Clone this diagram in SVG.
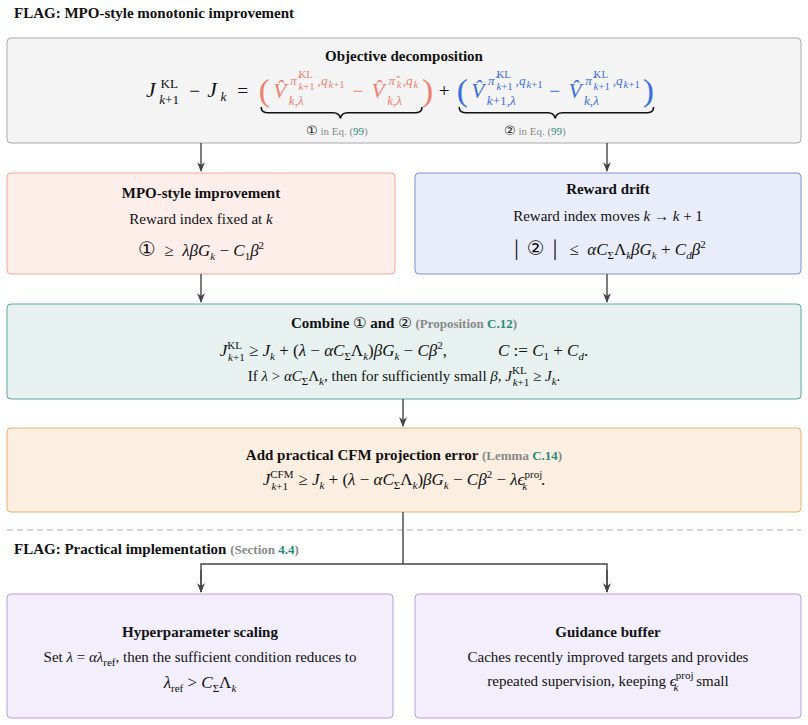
<svg xmlns="http://www.w3.org/2000/svg" width="808" height="725" viewBox="0 0 808 725">
<defs>
<marker id="ar" viewBox="0 0 10 10" refX="9" refY="5" markerWidth="7" markerHeight="7" orient="auto"><path d="M0,1 L10,5 L0,9 L3,5 z" fill="#444"/></marker>
<style>
text{font-family:"Liberation Serif",serif;fill:#111;white-space:pre}
.h{font-weight:bold;font-size:15px}
.t{font-size:15px}
.m{font-size:17px}
.i{font-style:italic}
.s{font-size:11px}
.ss{font-size:9px}
.g{fill:#888;font-weight:bold}
.tl{fill:#2a8a80}
.c{font-family:"DejaVu Sans",sans-serif}
.ln{stroke:#444;stroke-width:1.4;fill:none}
</style>
</defs>
<rect width="808" height="725" fill="#fff"/>
<text x="14" y="18" class="h">FLAG: MPO-style monotonic improvement</text>

<g id="n1">
<rect x="7" y="38" width="794" height="105" rx="4" fill="#f4f4f4" stroke="#aaa"/>
<text x="404" y="61" class="h" text-anchor="middle">Objective decomposition</text>
<g transform="translate(146,97) scale(1.2,1.12) translate(-146,-97)">
<text x="146" y="97" class="i" style="font-size:18px">J</text>
<text x="158" y="89" class="s">KL</text>
<text x="157" y="103" class="s"><tspan class="i">k</tspan>+1</text>
<text x="182" y="97" style="font-size:16px">−</text>
<text x="197" y="97" class="i" style="font-size:18px">J</text>
<text x="208" y="101" class="s i">k</text>
<text x="222" y="97" style="font-size:16px">=</text>
<text x="240" y="101" style="font-size:28px;fill:#f08070">(</text>
<text x="252" y="98" class="i" style="fill:#f08070;font-size:18px">V̂</text>
<text x="266" y="86" class="s i" style="fill:#f08070">π̂</text>
<text x="273" y="80" class="ss" style="fill:#f08070">KL</text>
<text x="273" y="91" class="ss" style="fill:#f08070"><tspan class="i">k</tspan>+1</text>
<text x="289" y="86" class="s i" style="fill:#f08070">,q</text>
<text x="298" y="89" class="ss" style="fill:#f08070"><tspan class="i">k</tspan>+1</text>
<text x="265" y="104" class="s i" style="fill:#f08070">k,λ</text>
<text x="318" y="97" style="fill:#f08070;font-size:16px">−</text>
<text x="334" y="98" class="i" style="fill:#f08070;font-size:18px">V̂</text>
<text x="348" y="86" class="s i" style="fill:#f08070">π̂</text>
<text x="355" y="89" class="ss i" style="fill:#f08070">k</text>
<text x="360" y="86" class="s i" style="fill:#f08070">,q</text>
<text x="369" y="89" class="ss i" style="fill:#f08070">k</text>
<text x="347" y="104" class="s i" style="fill:#f08070">k,λ</text>
<text x="376" y="101" style="font-size:28px;fill:#f08070">)</text>
<text x="390" y="97" style="font-size:16px">+</text>
<text x="405" y="101" style="font-size:28px;fill:#3b6fe0">(</text>
<text x="417" y="98" class="i" style="fill:#3b6fe0;font-size:18px">V̂</text>
<text x="431" y="86" class="s i" style="fill:#3b6fe0">π̂</text>
<text x="438" y="80" class="ss" style="fill:#3b6fe0">KL</text>
<text x="438" y="91" class="ss" style="fill:#3b6fe0"><tspan class="i">k</tspan>+1</text>
<text x="454" y="86" class="s i" style="fill:#3b6fe0">,q</text>
<text x="463" y="89" class="ss" style="fill:#3b6fe0"><tspan class="i">k</tspan>+1</text>
<text x="430" y="104" class="s" style="fill:#3b6fe0"><tspan class="i">k</tspan>+1,<tspan class="i">λ</tspan></text>
<text x="482" y="97" style="fill:#3b6fe0;font-size:16px">−</text>
<text x="498" y="98" class="i" style="fill:#3b6fe0;font-size:18px">V̂</text>
<text x="512" y="86" class="s i" style="fill:#3b6fe0">π̂</text>
<text x="519" y="80" class="ss" style="fill:#3b6fe0">KL</text>
<text x="519" y="91" class="ss" style="fill:#3b6fe0"><tspan class="i">k</tspan>+1</text>
<text x="535" y="86" class="s i" style="fill:#3b6fe0">,q</text>
<text x="544" y="89" class="ss" style="fill:#3b6fe0"><tspan class="i">k</tspan>+1</text>
<text x="511" y="104" class="s i" style="fill:#3b6fe0">k,λ</text>
<text x="560" y="101" style="font-size:28px;fill:#3b6fe0">)</text>
<path class="ln" style="stroke:#111;stroke-width:1.3" d="M242,106 q0,5 5,5 h55 q5,0 6,5 q1,-5 6,-5 h57 q5,0 5,-5"/>
<path class="ln" style="stroke:#111;stroke-width:1.3" d="M407,106 q0,5 5,5 h69 q5,0 6,5 q1,-5 6,-5 h71 q5,0 5,-5"/>
</g>
<text x="306" y="135" style="font-size:11px;fill:#888"><tspan class="c" style="fill:#111;font-size:13px">①</tspan> in Eq. (<tspan class="tl">99</tspan>)</text>
<text x="504" y="135" style="font-size:11px;fill:#888"><tspan class="c" style="fill:#111;font-size:13px">②</tspan> in Eq. (<tspan class="tl">99</tspan>)</text>
</g>

<g id="n2">
<rect x="7" y="173" width="388" height="101" rx="4" fill="#fdeeea" stroke="#f0a898"/>
<text x="201" y="198" class="h" text-anchor="middle">MPO-style improvement</text>
<text x="201" y="224" class="t" text-anchor="middle">Reward index fixed at <tspan class="i">k</tspan></text>
<text x="201" y="256" class="m" text-anchor="middle"><tspan class="c" style="font-size:20px">①</tspan>  ≥  <tspan class="i">λβG</tspan><tspan class="s i" dy="4">k</tspan><tspan dy="-4"> − </tspan><tspan class="i">C</tspan><tspan class="s" dy="4">1</tspan><tspan class="i" dy="-4">β</tspan><tspan class="s" dy="-7">2</tspan></text>
</g>

<g id="n3">
<rect x="415" y="173" width="386" height="101" rx="4" fill="#e9edf9" stroke="#7b93d9"/>
<text x="608" y="194" class="h" text-anchor="middle">Reward drift</text>
<text x="608" y="221" class="t" text-anchor="middle">Reward index moves <tspan class="i">k</tspan> → <tspan class="i">k</tspan> + 1</text>
<text x="608" y="255" class="m" text-anchor="middle">│ <tspan class="c" style="font-size:20px">②</tspan> │  ≤  <tspan class="i">αC</tspan><tspan class="s" dy="4">Σ</tspan><tspan dy="-4">Λ</tspan><tspan class="s i" dy="4">k</tspan><tspan class="i" dy="-4">βG</tspan><tspan class="s i" dy="4">k</tspan><tspan dy="-4"> + </tspan><tspan class="i">C</tspan><tspan class="s i" dy="4">d</tspan><tspan class="i" dy="-4">β</tspan><tspan class="s" dy="-7">2</tspan></text>
</g>

<g id="n4">
<rect x="7" y="304" width="794" height="95" rx="4" fill="#e6f1f0" stroke="#5aa8a0"/>
<text x="404" y="328" class="h" text-anchor="middle">Combine <tspan class="c" style="font-weight:normal">①</tspan> and <tspan class="c" style="font-weight:normal">②</tspan> <tspan class="g" style="font-size:13px">(Proposition <tspan class="tl">C.12</tspan>)</tspan></text>
<text x="404" y="356" class="m" text-anchor="middle"><tspan class="i">J</tspan><tspan class="s" dy="-7">KL</tspan><tspan class="s i" dx="-14" dy="12">k</tspan><tspan class="s">+1</tspan><tspan dy="-5"> ≥ </tspan><tspan class="i">J</tspan><tspan class="s i" dy="4">k</tspan><tspan dy="-4"> + (</tspan><tspan class="i">λ</tspan> − <tspan class="i">αC</tspan><tspan class="s" dy="4">Σ</tspan><tspan dy="-4">Λ</tspan><tspan class="s i" dy="4">k</tspan><tspan dy="-4">)</tspan><tspan class="i">βG</tspan><tspan class="s i" dy="4">k</tspan><tspan dy="-4"> − </tspan><tspan class="i">Cβ</tspan><tspan class="s" dy="-7">2</tspan><tspan dy="7">,            </tspan><tspan class="i">C</tspan> := <tspan class="i">C</tspan><tspan class="s" dy="4">1</tspan><tspan dy="-4"> + </tspan><tspan class="i">C</tspan><tspan class="s i" dy="4">d</tspan><tspan dy="-4">.</tspan></text>
<text x="404" y="381" class="t" text-anchor="middle">If <tspan class="i">λ</tspan> &gt; <tspan class="i">αC</tspan><tspan class="s" dy="4">Σ</tspan><tspan dy="-4">Λ</tspan><tspan class="s i" dy="4">k</tspan><tspan dy="-4">, then for sufficiently small </tspan><tspan class="i">β</tspan>, <tspan class="i">J</tspan><tspan class="s" dy="-7">KL</tspan><tspan class="s i" dx="-14" dy="12">k</tspan><tspan class="s">+1</tspan><tspan dy="-5"> ≥ </tspan><tspan class="i">J</tspan><tspan class="s i" dy="4">k</tspan><tspan dy="-4">.</tspan></text>
</g>

<g id="n5">
<rect x="7" y="428" width="794" height="84" rx="4" fill="#fcefe1" stroke="#e8b070"/>
<text x="404" y="460" class="h" text-anchor="middle">Add practical CFM projection error <tspan class="g" style="font-size:13px">(Lemma <tspan class="tl">C.14</tspan>)</tspan></text>
<text x="404" y="485" class="m" text-anchor="middle"><tspan class="i">J</tspan><tspan class="s" dy="-7">CFM</tspan><tspan class="s i" dx="-22" dy="12">k</tspan><tspan class="s">+1</tspan><tspan dx="6" dy="-5"> ≥ </tspan><tspan class="i">J</tspan><tspan class="s i" dy="4">k</tspan><tspan dy="-4"> + (</tspan><tspan class="i">λ</tspan> − <tspan class="i">αC</tspan><tspan class="s" dy="4">Σ</tspan><tspan dy="-4">Λ</tspan><tspan class="s i" dy="4">k</tspan><tspan dy="-4">)</tspan><tspan class="i">βG</tspan><tspan class="s i" dy="4">k</tspan><tspan dy="-4"> − </tspan><tspan class="i">Cβ</tspan><tspan class="s" dy="-7">2</tspan><tspan dy="7"> − </tspan><tspan class="i">λϵ</tspan><tspan class="s" dy="-7">proj</tspan><tspan class="s i" dx="-20" dy="12">k</tspan><tspan dx="14" dy="-5">.</tspan></text>
</g>

<line x1="7" y1="530" x2="801" y2="530" stroke="#aaa" stroke-dasharray="6,4"/>
<text x="14" y="554" class="h">FLAG: Practical implementation <tspan class="g" style="font-size:13px">(Section <tspan class="tl">4.4</tspan>)</tspan></text>

<g id="n6">
<rect x="7" y="594" width="386" height="124" rx="4" fill="#f3eefb" stroke="#b99be8"/>
<text x="200" y="637" class="h" text-anchor="middle">Hyperparameter scaling</text>
<text x="200" y="662" class="t" text-anchor="middle">Set <tspan class="i">λ</tspan> = <tspan class="i">αλ</tspan><tspan class="s" dy="4">ref</tspan><tspan dy="-4">, then the sufficient condition reduces to</tspan></text>
<text x="200" y="688" class="m" text-anchor="middle"><tspan class="i">λ</tspan><tspan class="s" dy="4">ref</tspan><tspan dy="-4"> &gt; </tspan><tspan class="i">C</tspan><tspan class="s" dy="4">Σ</tspan><tspan dy="-4">Λ</tspan><tspan class="s i" dy="4">k</tspan></text>
</g>

<g id="n7">
<rect x="415" y="594" width="386" height="124" rx="4" fill="#f3eefb" stroke="#b99be8"/>
<text x="608" y="637" class="h" text-anchor="middle">Guidance buffer</text>
<text x="608" y="662" class="t" text-anchor="middle">Caches recently improved targets and provides</text>
<text x="608" y="686" class="t" text-anchor="middle">repeated supervision, keeping <tspan class="i">ϵ</tspan><tspan class="s" dy="-7">proj</tspan><tspan class="s i" dx="-20" dy="12">k</tspan><tspan dx="14" dy="-5"> small</tspan></text>
</g>

<g id="connectors">
<line class="ln" x1="201" y1="143" x2="201" y2="171" marker-end="url(#ar)"/>
<line class="ln" x1="607" y1="143" x2="607" y2="171" marker-end="url(#ar)"/>
<line class="ln" x1="201" y1="274" x2="201" y2="302" marker-end="url(#ar)"/>
<line class="ln" x1="607" y1="274" x2="607" y2="302" marker-end="url(#ar)"/>
<line class="ln" x1="403" y1="399" x2="403" y2="426" marker-end="url(#ar)"/>
<path class="ln" d="M403,512 V564 M201,592 V564 H607 V592" />
<line class="ln" x1="201" y1="570" x2="201" y2="592" marker-end="url(#ar)"/>
<line class="ln" x1="607" y1="570" x2="607" y2="592" marker-end="url(#ar)"/>
</g>
</svg>
